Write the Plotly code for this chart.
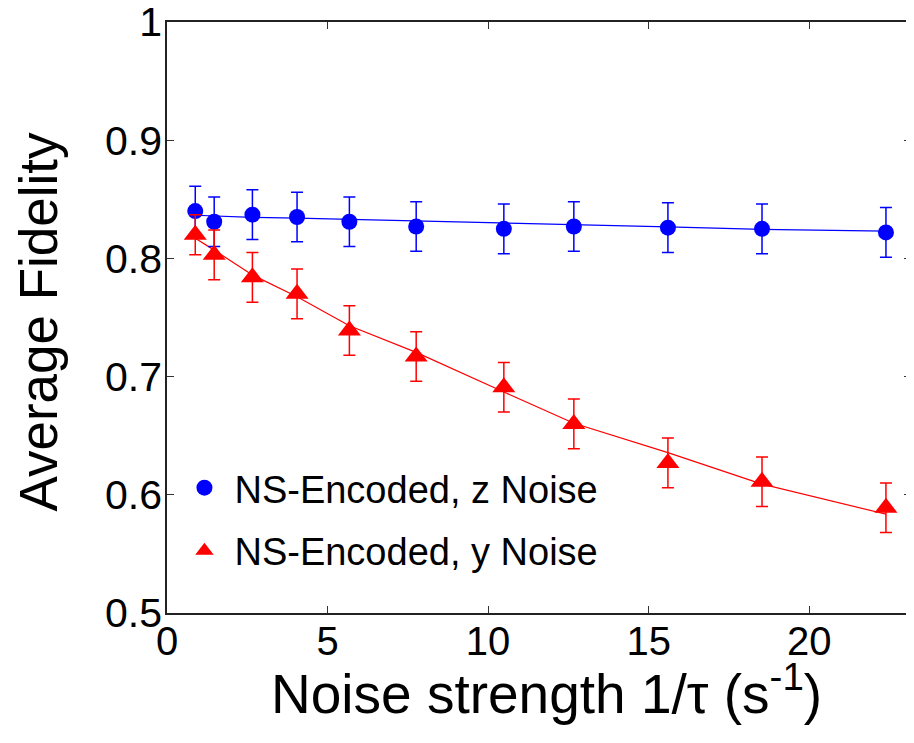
import plotly.graph_objects as go

# Data
x_vals = [0.88, 1.47, 2.66, 4.05, 5.68, 7.76, 10.49, 12.67, 15.6, 18.53, 22.39]

z_fidelity = [0.840, 0.831, 0.837, 0.835, 0.831, 0.827, 0.825, 0.827, 0.826, 0.825, 0.822]
z_error = [0.021, 0.021, 0.021, 0.021, 0.021, 0.021, 0.021, 0.021, 0.021, 0.021, 0.021]
z_fit = [0.8365, 0.8358, 0.8347, 0.834, 0.833, 0.8318, 0.830, 0.829, 0.8267, 0.8245, 0.823]

y_fidelity = [0.820, 0.803, 0.784, 0.770, 0.739, 0.717, 0.691, 0.660, 0.627, 0.611, 0.589]
y_error = [0.017, 0.021, 0.021, 0.021, 0.021, 0.021, 0.021, 0.021, 0.021, 0.021, 0.021]
y_fit = [0.817, 0.807, 0.786, 0.7675, 0.743, 0.7205, 0.687, 0.6605, 0.6357, 0.609, 0.5836]

x_ticks = [0, 5, 10, 15, 20]
y_ticks = [0.5, 0.6, 0.7, 0.8, 0.9, 1.0]
y_tick_text = ["0.5", "0.6", "0.7", "0.8", "0.9", "1"]

names = ["NS-Encoded, z Noise", "NS-Encoded, y Noise"]
x_title = "Noise strength 1/τ (s<sup>-1</sup>)"
y_title = "Average Fidelity"

FONT = "Liberation Sans, Arial, Helvetica, sans-serif"
BLUE = "#0000ff"
RED = "#ff0000"

fig = go.Figure()

fig.add_trace(go.Scatter(
    x=x_vals, y=z_fit, mode="lines", line=dict(color=BLUE, width=1.2),
    showlegend=False, hoverinfo="skip"))
fig.add_trace(go.Scatter(
    x=x_vals, y=y_fit, mode="lines", line=dict(color=RED, width=1.2),
    showlegend=False, hoverinfo="skip"))

fig.add_trace(go.Scatter(
    x=x_vals, y=z_fidelity, mode="markers", name=names[0],
    marker=dict(symbol="circle", size=16, color=BLUE),
    error_y=dict(type="data", array=z_error, color=BLUE, thickness=1.5, width=6),
    legend="legend"))
fig.add_trace(go.Scatter(
    x=x_vals, y=y_fidelity, mode="markers", name=names[1],
    marker=dict(symbol="triangle-up", size=20, color=RED),
    error_y=dict(type="data", array=y_error, color=RED, thickness=1.5, width=6),
    legend="legend2"))

axis_common = dict(
    showline=True, linecolor="#222222", linewidth=1.5, mirror="ticks",
    ticks="inside", ticklen=7, tickwidth=1.3, tickcolor="#333333",
    showgrid=False, zeroline=False, automargin=False,
    ticklabeloverflow="allow",
)

# The page body has an 8px default margin, so margins are compensated
fig.update_layout(
    width=914, height=743,
    margin=dict(l=159, r=11, t=14, b=138),
    paper_bgcolor="white", plot_bgcolor="white",
    font=dict(family=FONT, color="black"),
    xaxis=dict(
        range=[0, 23.17], tickvals=x_ticks,
        tickfont=dict(size=40, family=FONT), ticklabelstandoff=-8,
        **axis_common),
    yaxis=dict(
        range=[0.5, 1.0], tickvals=y_ticks, ticktext=y_tick_text,
        tickfont=dict(size=41, family=FONT), ticklabelstandoff=-5,
        **axis_common),
    legend=dict(x=0.01, y=0.2115, xanchor="left", yanchor="middle",
                bgcolor="rgba(0,0,0,0)", font=dict(size=38, family=FONT),
                itemsizing="trace", itemwidth=50),
    legend2=dict(x=0.01, y=0.105, xanchor="left", yanchor="middle",
                 bgcolor="rgba(0,0,0,0)", font=dict(size=38, family=FONT),
                 itemsizing="trace", itemwidth=50),
    annotations=[
        dict(text=x_title, xref="paper", yref="paper", x=0.5104, y=-0.1303,
             xanchor="center", yanchor="middle", showarrow=False,
             font=dict(size=55, family=FONT)),
        dict(text=y_title, xref="paper", yref="paper", x=-0.1728, y=0.494,
             xanchor="center", yanchor="middle", showarrow=False, textangle=-90,
             font=dict(size=53, family=FONT)),
    ],
)

fig.write_html("out.html")
